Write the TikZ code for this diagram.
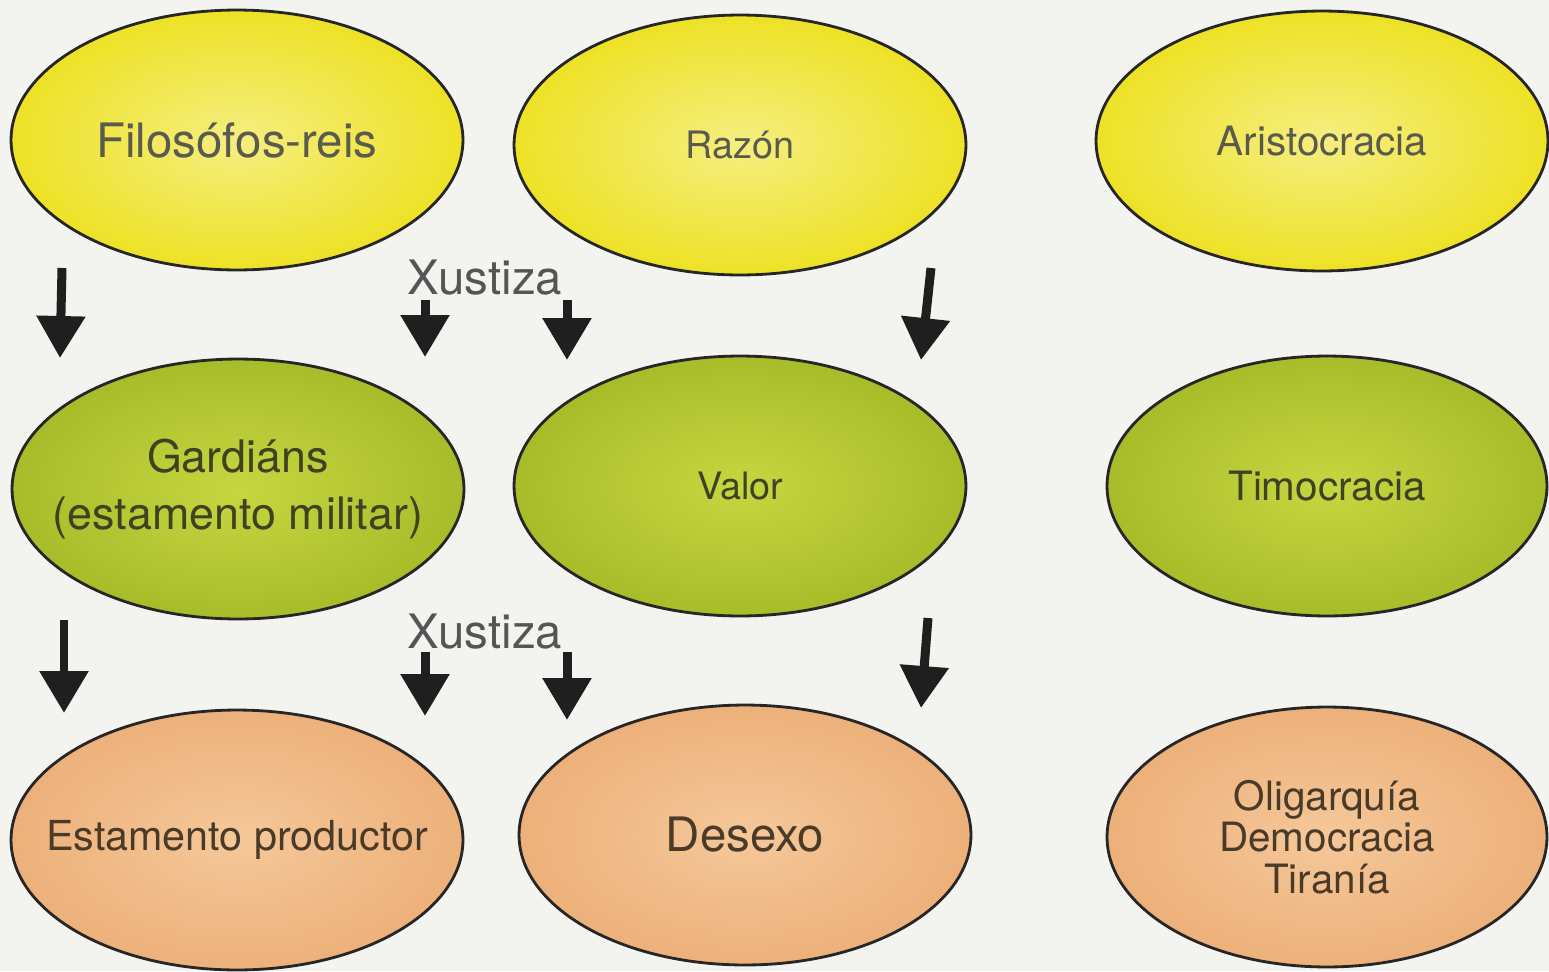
\documentclass[tikz,border=0pt]{standalone}
\usepackage{fontspec}
\setmainfont{TeX Gyre Heros}
\usetikzlibrary{shapes.geometric,arrows.meta}
\definecolor{paper}{HTML}{F3F3F0}
\definecolor{yelin}{HTML}{F5EE80}
\definecolor{yelout}{HTML}{EEE226}
\definecolor{grnin}{HTML}{C6D640}
\definecolor{grnout}{HTML}{A8BC2A}
\definecolor{pchin}{HTML}{F5C89A}
\definecolor{pchout}{HTML}{EDB07A}
\definecolor{inktop}{HTML}{5A5A4E}
\definecolor{inkmid}{HTML}{3E4222}
\definecolor{inkbot}{HTML}{4A3A28}
\definecolor{inklab}{HTML}{555555}
\tikzset{
  oval/.style={ellipse, draw=black!85, line width=1.6pt, inner xsep=-2cm, inner ysep=0pt,
    minimum width=9.04cm, minimum height=5.2cm, align=center},
  upper/.style={oval, shading=radial, inner color=yelin, outer color=yelout, text=inktop},
  middle/.style={oval, shading=radial, inner color=grnin, outer color=grnout, text=inkmid},
  lower/.style={oval, shading=radial, inner color=pchin, outer color=pchout, text=inkbot},
  dart/.style={-{Triangle[width=0.94cm,length=0.84cm]}, line width=0.18cm, draw=black!88},
  xlabel/.style={text=inklab, font=\fontsize{27}{30}\selectfont},
}
\begin{document}
\begin{tikzpicture}[x=0.02cm,y=-0.02cm]
  \fill[paper] (0,0) rectangle (1549,971);
  \useasboundingbox (0,0) rectangle (1549,971);
  % ovals, one row per level
  \draw
    (237,140) node[upper, font=\fontsize{27}{30}\selectfont] (fil){Filosófos-reis}
    (740,145) node[upper, font=\fontsize{21.5}{25}\selectfont] (raz){Razón}
    (1322,141) node[upper, font=\fontsize{23}{26}\selectfont] (ari){Aristocracia}
    (238,489) node[middle, font=\fontsize{25.5}{33}\selectfont] (gar){Gardiáns\\(estamento militar)}
    (740,486) node[middle, font=\fontsize{21.5}{25}\selectfont] (val){Valor}
    (1327,486) node[middle, minimum width=8.8cm, font=\fontsize{23}{26}\selectfont] (tim){Timocracia}
    (237,840) node[lower, font=\fontsize{23.5}{27}\selectfont] (est){Estamento productor}
    (745,835) node[lower, font=\fontsize{27}{30}\selectfont] (des){Desexo}
    (1327,837) node[lower, minimum width=8.8cm, font=\fontsize{23}{23.6}\selectfont] (oli){Oligarquía\\Democracia\\Tiranía};
  \draw
    (485,278) node[xlabel] (xu1){Xustiza}
    (485,632) node[xlabel] (xu2){Xustiza};
  % arrow ends
  \coordinate (a1) at (62,268);  \coordinate (b1) at (60,358);
  \coordinate (a2) at (425,300); \coordinate (b2) at (425,357);
  \coordinate (a3) at (567,300); \coordinate (b3) at (567,360);
  \coordinate (a4) at (931,268); \coordinate (b4) at (921,360);
  \coordinate (a5) at (64,620);  \coordinate (b5) at (64,713);
  \coordinate (a6) at (425,652); \coordinate (b6) at (425,716);
  \coordinate (a7) at (567,652); \coordinate (b7) at (567,720);
  \coordinate (a8) at (928,618); \coordinate (b8) at (921,708);
  \begin{scope}[dart]
    \draw (a1) to (b1);
    \draw (a2) to (b2);
    \draw (a3) to (b3);
    \draw (a4) to (b4);
    \draw (a5) to (b5);
    \draw (a6) to (b6);
    \draw (a7) to (b7);
    \draw (a8) to (b8);
  \end{scope}
\end{tikzpicture}
\end{document}
